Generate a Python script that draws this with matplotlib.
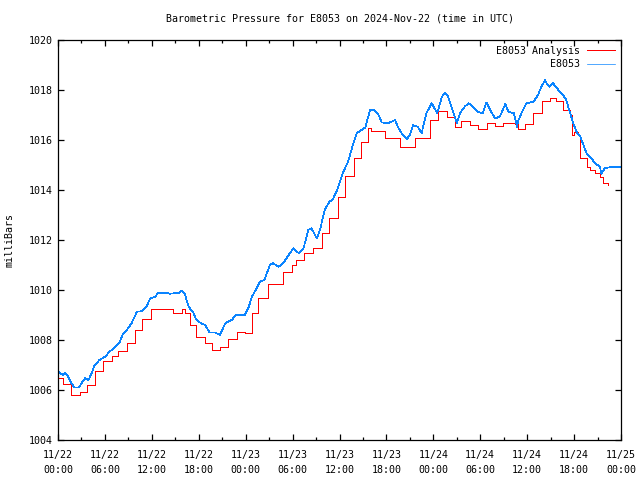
import matplotlib
matplotlib.use("Agg")
import matplotlib.pyplot as plt

# hours since 2024-11-22 00:00 UTC, values in milliBars
blue_t = [0.0, 0.6, 0.9, 1.3, 1.7, 2.1, 2.7, 3.0, 3.45, 3.9, 4.3, 4.7, 5.3, 6.0, 6.6,
          7.3, 7.9, 8.35, 8.8, 9.4, 10.1, 10.7, 11.3, 11.8, 12.4, 12.8, 13.2, 13.7,
          14.3, 14.9, 15.4, 15.8, 16.2, 16.7, 17.3, 17.7, 18.3, 18.8, 19.4, 20.1,
          20.7, 21.4, 22.2, 22.8, 23.9, 24.4, 24.8, 25.4, 25.8, 26.4, 27.1, 27.5,
          28.2, 28.8, 29.5, 30.1, 30.8, 31.4, 32.0, 32.4, 33.1, 33.5, 34.1, 34.7,
          35.1, 35.8, 36.4, 37.1, 37.7, 38.2, 38.8, 39.3, 39.9, 40.4, 41.0, 41.4,
          42.2, 43.1, 43.5, 44.1, 44.6, 45.0, 45.4, 46.0, 46.5, 47.1, 47.8, 48.5,
          49.1, 49.5, 49.9, 50.6, 51.0, 51.4, 52.0, 52.5, 53.1, 53.7, 54.3, 54.8,
          55.4, 55.9, 56.5, 57.2, 57.6, 58.3, 58.7, 58.9, 59.3, 59.9, 60.8, 61.4,
          61.8, 62.3, 62.6, 62.9, 63.3, 64.0, 64.6, 65.0, 65.5, 65.9, 66.3, 66.8,
          67.2, 67.6, 68.2, 68.7, 69.3, 69.5, 69.9, 70.6, 71.9]
blue_p = [1006.76, 1006.6, 1006.7, 1006.53, 1006.27, 1006.1, 1006.1, 1006.27, 1006.47,
          1006.4, 1006.67, 1007.0, 1007.2, 1007.33, 1007.53, 1007.73, 1007.93, 1008.27,
          1008.4, 1008.67, 1009.13, 1009.15, 1009.33, 1009.67, 1009.73, 1009.87,
          1009.87, 1009.9, 1009.85, 1009.87, 1009.87, 1009.97, 1009.87, 1009.33,
          1009.1, 1008.8, 1008.67, 1008.6, 1008.3, 1008.3, 1008.2, 1008.67, 1008.8,
          1009.0, 1009.0, 1009.33, 1009.73, 1010.07, 1010.33, 1010.4, 1011.0, 1011.07,
          1010.93, 1011.07, 1011.4, 1011.67, 1011.47, 1011.67, 1012.4, 1012.47,
          1012.07, 1012.4, 1013.2, 1013.53, 1013.6, 1014.07, 1014.67, 1015.13, 1015.8,
          1016.27, 1016.4, 1016.5, 1017.2, 1017.2, 1017.0, 1016.7, 1016.67, 1016.8,
          1016.5, 1016.2, 1016.03, 1016.2, 1016.6, 1016.53, 1016.27, 1017.07, 1017.47,
          1017.07, 1017.73, 1017.9, 1017.73, 1017.07, 1016.67, 1017.07, 1017.33,
          1017.47, 1017.33, 1017.13, 1017.07, 1017.5, 1017.13, 1016.87, 1016.93,
          1017.44, 1017.13, 1017.07, 1016.53, 1016.8, 1017.1, 1017.47, 1017.53,
          1017.8, 1018.13, 1018.4, 1018.2, 1018.13, 1018.27, 1018.0, 1017.8, 1017.6,
          1017.07, 1016.67, 1016.33, 1016.13, 1015.8, 1015.47, 1015.27, 1015.07,
          1014.93, 1014.64, 1014.87, 1014.91, 1014.91]

red_t = [0.0, 0.65, 1.7, 2.75, 3.65, 4.7, 5.8, 6.85, 7.7, 8.8, 9.85, 10.8, 11.9, 14.75,
         15.8, 16.2, 16.9, 17.7, 18.8, 19.65, 20.7, 21.8, 22.85, 23.9, 24.8, 25.6,
         26.9, 28.8, 29.9, 30.5, 31.4, 32.65, 33.7, 34.6, 35.85, 36.7, 37.8, 38.8,
         39.7, 40.0, 41.8, 43.7, 45.65, 47.6, 48.6, 49.7, 50.8, 51.6, 52.7, 53.7,
         54.8, 55.9, 56.9, 58.4, 58.8, 59.7, 60.8, 61.9, 62.9, 63.7, 64.6, 65.5,
         65.7, 66.0, 66.5, 66.7, 67.6, 68.0, 68.7, 69.3, 69.7, 70.3]
red_p = [1006.5, 1006.24, 1005.8, 1005.93, 1006.2, 1006.77, 1007.16, 1007.36, 1007.57,
         1007.87, 1008.4, 1008.83, 1009.23, 1009.07, 1009.23, 1009.07, 1008.6, 1008.13,
         1007.87, 1007.6, 1007.73, 1008.03, 1008.33, 1008.27, 1009.07, 1009.67,
         1010.24, 1010.73, 1011.0, 1011.2, 1011.47, 1011.67, 1012.27, 1012.9,
         1013.73, 1014.56, 1015.27, 1015.93, 1016.47, 1016.37, 1016.1, 1015.73,
         1016.07, 1016.8, 1017.17, 1016.93, 1016.53, 1016.77, 1016.6, 1016.43,
         1016.7, 1016.56, 1016.7, 1016.63, 1016.44, 1016.63, 1017.07, 1017.57,
         1017.7, 1017.57, 1017.2, 1017.0, 1016.2, 1016.33, 1016.2, 1015.3, 1014.93,
         1014.8, 1014.67, 1014.53, 1014.3, 1014.2]

tick_hours = list(range(0, 73, 6))
tick_labels = ["11/22\n00:00", "11/22\n06:00", "11/22\n12:00", "11/22\n18:00",
               "11/23\n00:00", "11/23\n06:00", "11/23\n12:00", "11/23\n18:00",
               "11/24\n00:00", "11/24\n06:00", "11/24\n12:00", "11/24\n18:00",
               "11/25\n00:00"]

plt.rcParams['font.family'] = ['DejaVu Sans Mono']
fs = 7.2

fig = plt.figure(figsize=(6.4, 4.8), dpi=100)
ax = fig.add_axes([58 / 640, 40 / 480, (621 - 58) / 640, 400 / 480])

ax.plot(red_t, red_p, color="#ff0000", lw=0.72, drawstyle="steps-post",
        label="E8053 Analysis", antialiased=False)
ax.plot(blue_t, blue_p, color="#0a84ff", lw=0.5, label="E8053", antialiased=False)

ax.set_xlim(0, 72)
ax.set_ylim(1004, 1020)
ax.set_yticks(range(1004, 1021, 2))
ax.set_xticks(tick_hours)
ax.set_xticklabels(tick_labels, fontsize=fs, linespacing=1.65)
ax.set_xticks(range(3, 72, 6), minor=True)
for lab in ax.get_yticklabels():
    lab.set_fontsize(fs)
ax.tick_params(which="both", direction="in", top=True, right=True, width=0.9)
ax.tick_params(which="major", length=4, pad=4)
ax.tick_params(axis="x", which="major", pad=7)
ax.tick_params(which="minor", length=2.5)
for s in ax.spines.values():
    s.set_linewidth(0.9)

ax.set_ylabel("milliBars", fontsize=fs, labelpad=10)
ax.set_title("Barometric Pressure for E8053 on 2024-Nov-22 (time in UTC)",
             fontsize=fs, pad=13)

ax.legend(loc="upper right", frameon=False, fontsize=fs, markerfirst=False,
          handlelength=2.8, handletextpad=0.7, labelspacing=0.35,
          borderaxespad=0.2)

fig.savefig("out.png", dpi=100)
